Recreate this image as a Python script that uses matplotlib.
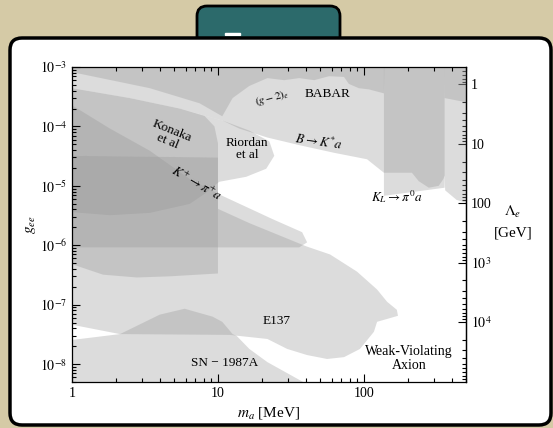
import matplotlib.pyplot as plt
from matplotlib.patches import FancyBboxPatch, Rectangle
from matplotlib.ticker import FixedLocator, FixedFormatter, LogLocator, NullFormatter

plt.rcParams["font.family"] = ["Liberation Serif", "DejaVu Serif"]
plt.rcParams["mathtext.fontset"] = "stix"

# exclusion regions: axion mass m_a [MeV] and coupling g_ee along each boundary
bk_m = [1, 2.49, 5.46, 10.7, 14.0, 21.8, 36.6, 62.4, 105, 137, 213, 237, 278, 325, 350, 357, 360, 431, 500]
bk_g = [4.4e-4, 3.0e-4, 2.0e-4, 1.26e-4, 9.2e-5, 6.5e-5, 4.8e-5, 3.6e-5, 2.8e-5, 1.66e-5,
        1.66e-5, 1.2e-5, 9.3e-6, 1.0e-5, 1.3e-5, 1.5e-5, 8.4e-6, 5.8e-6, 5.2e-6]

gm2_m = [1, 3.41, 7.48, 10.7, 12.6, 16.4, 21.8, 28.4, 36.0, 45.6, 57.7, 73.0, 78.7, 92.1,
         108, 137, 138, 356, 357, 500]
gm2_g = [8.2e-4, 4.4e-4, 2.45e-4, 1.48e-4, 3.0e-4, 4.8e-4, 6.5e-4, 6.0e-4, 6.5e-4, 6.0e-4,
         7.0e-4, 6.8e-4, 5.2e-4, 4.4e-4, 4.2e-4, 3.6e-4, 1e-3, 1e-3, 3.0e-4, 2.55e-4]

kl_m = [137, 357]
kl_g = [6.8e-6, 9.3e-6]

konaka_m = [1, 2.49, 5.46, 8.09, 9.46, 10, 10, 1]
konaka_g = [4.4e-4, 3.0e-4, 2.0e-4, 1.5e-4, 1.0e-4, 5.2e-5, 3.0e-5, 3.2e-5]

riordan_m = [1, 2.49, 5.46, 10.7, 16.4, 22.5, 24.3, 21.4, 15.6, 10.2, 8.09, 6.39, 3.41, 1.82, 1]
riordan_g = [4.4e-4, 3.0e-4, 2.0e-4, 1.26e-4, 8.5e-5, 5.6e-5, 3.2e-5, 1.94e-5, 1.42e-5,
             1.17e-5, 7.3e-6, 4.95e-6, 3.5e-6, 3.2e-6, 3.6e-6]

kplus_m = [1, 36.0, 40.8, 37.7, 23.6, 10.7, 6.39, 3.41, 1.82, 1]
kplus_g = [9.2e-7, 9.2e-7, 1.12e-6, 1.66e-6, 2.76e-6, 6.8e-6, 1.31e-5, 3.9e-5, 9.2e-5, 2.27e-4]

e137_m = [1, 10, 10, 16.4, 40.2, 58.6, 89.6, 123, 144, 168, 171, 123, 117, 93.9, 73.0,
          55.9, 40.8, 29.8, 21.8, 12.0, 2.13, 1]
e137_g = [3.2e-5, 3.0e-5, 4.1e-6, 2.36e-6, 9.6e-7, 7.0e-7, 3.6e-7, 1.8e-7, 1.12e-7, 8.2e-8,
          6.5e-8, 5.15e-8, 3.5e-8, 1.8e-8, 1.31e-8, 1.22e-8, 1.42e-8, 1.8e-8, 2.65e-8,
          3.1e-8, 3.2e-8, 4.6e-8]

low_m = [1, 10, 10, 4.67, 2.78, 1.63, 1]
low_g = [3.2e-5, 3.0e-5, 3.35e-7, 3.0e-7, 2.87e-7, 3.2e-7, 4.8e-7]

sn_m = [1, 2.13, 3.99, 5.91, 9.17, 10.7, 12.6, 13.4, 16.4, 21.8, 38.9]
sn_g = [2.55e-8, 3.2e-8, 6.8e-8, 8.55e-8, 6.3e-8, 5.15e-8, 3.2e-8, 3.0e-8, 1.8e-8, 1.08e-8, 4.9e-9]

x_ticks = [1, 10, 100]
x_labels = ["1", "10", "100"]
y_ticks = [1e-8, 1e-7, 1e-6, 1e-5, 1e-4, 1e-3]
y_labels = [r"$10^{-8}$", r"$10^{-7}$", r"$10^{-6}$", r"$10^{-5}$", r"$10^{-4}$", r"$10^{-3}$"]
lam_ticks = [1, 10, 100, 1e3, 1e4]
lam_labels = ["1", "10", "100", r"$10^3$", r"$10^4$"]
m_electron = 0.511e-3  # GeV

fig = plt.figure(figsize=(5.53, 4.28), dpi=100)
fig.patch.set_facecolor("#d5caa6")

# slide frame behind the plot
bg = fig.add_axes([0, 0, 1, 1], zorder=0)
bg.set_xlim(0, 553)
bg.set_ylim(428, 0)
bg.axis("off")
bg.add_patch(FancyBboxPatch((197, 6), 143, 60, boxstyle="round,pad=0,rounding_size=10",
                            fc="#2c6a6b", ec="black", lw=2))
bg.add_patch(Rectangle((225, 33), 15, 2, color="white"))
bg.add_patch(FancyBboxPatch((10, 38), 541, 387, boxstyle="round,pad=0,rounding_size=12",
                            fc="white", ec="black", lw=2.5))

ax = fig.add_axes([72 / 553, 1 - 382 / 428, 394 / 553, 315 / 428], zorder=1)
ax.set_xscale("log")
ax.set_yscale("log")
ax.set_xlim(1, 500)
ax.set_ylim(5e-9, 1e-3)

shade = dict(facecolor="#969696", alpha=0.33, edgecolor="none")
ax.fill_between(bk_m, bk_g, 1e-3, **shade)
ax.fill_between(gm2_m, gm2_g, 1e-3, **shade)
ax.fill_between(kl_m, kl_g, 1e-3, **shade)
ax.fill(konaka_m, konaka_g, **shade)
ax.fill(riordan_m, riordan_g, **shade)
ax.fill(kplus_m, kplus_g, **shade)
ax.fill(e137_m, e137_g, **shade)
ax.fill(low_m, low_g, **shade)
ax.fill_between(sn_m, 1e-10, sn_g, **shade)

fs = 9.5
ax.text(4.67, 6.8e-5, "Konaka\net al", fontsize=fs, rotation=-22, ha="center", va="center",
        linespacing=0.9)
ax.text(15.9, 4.1e-5, "Riordan\net al", fontsize=fs, ha="center", va="center", linespacing=1.0)
ax.text(7.1, 1.08e-5, r"$K^{+}\rightarrow\pi^{+}a$", fontsize=fs, rotation=-30,
        ha="center", va="center")
ax.text(23.6, 3.0e-4, r"$(g-2)_e$", fontsize=8, rotation=15, ha="center", va="center")
ax.text(55.9, 3.5e-4, "BABAR", fontsize=fs, ha="center", va="center")
ax.text(49.3, 5.6e-5, r"$B\rightarrow K^{*}a$", fontsize=fs, rotation=-8, ha="center", va="center")
ax.text(168, 6.5e-6, r"$K_L\rightarrow\pi^0 a$", fontsize=fs, ha="center", va="center")
ax.text(25.1, 5.4e-8, "E137", fontsize=fs, ha="center", va="center")
ax.text(11.1, 1.04e-8, "SN \u2212 1987A", fontsize=fs, ha="center", va="center")
ax.text(203, 1.22e-8, "Weak-Violating\nAxion", fontsize=10, ha="center", va="center",
        linespacing=1.1)

ax.xaxis.set_major_locator(FixedLocator(x_ticks))
ax.xaxis.set_major_formatter(FixedFormatter(x_labels))
ax.xaxis.set_minor_locator(LogLocator(base=10, subs=range(2, 10)))
ax.xaxis.set_minor_formatter(NullFormatter())
ax.yaxis.set_major_locator(FixedLocator(y_ticks))
ax.yaxis.set_major_formatter(FixedFormatter(y_labels))
ax.yaxis.set_minor_locator(LogLocator(base=10, subs=range(2, 10), numticks=20))
ax.yaxis.set_minor_formatter(NullFormatter())
ax.tick_params(which="both", direction="in", top=True, right=False, labelsize=10, width=0.8)
ax.tick_params(which="major", length=6)
ax.tick_params(which="minor", length=3)
for sp in ax.spines.values():
    sp.set_linewidth(0.9)

ax.set_xlabel(r"$m_a$ [MeV]", fontsize=11, labelpad=4)
ax.set_ylabel(r"$g_{ee}$", fontsize=11, labelpad=1)

sec = ax.secondary_yaxis("right", functions=(lambda g: m_electron / g, lambda lam: m_electron / lam))
sec.yaxis.set_major_locator(FixedLocator(lam_ticks))
sec.yaxis.set_major_formatter(FixedFormatter(lam_labels))
sec.yaxis.set_minor_locator(LogLocator(base=10, subs=range(2, 10), numticks=20))
sec.yaxis.set_minor_formatter(NullFormatter())
sec.tick_params(which="both", direction="in", labelsize=10, width=0.8)
sec.tick_params(which="major", length=6)
sec.tick_params(which="minor", length=3)
sec.spines["right"].set_linewidth(0.9)

fig.text(513 / 553, 1 - 212 / 428, r"$\Lambda_e$", fontsize=11, ha="center", va="center")
fig.text(513 / 553, 1 - 233 / 428, "[GeV]", fontsize=11, ha="center", va="center")

fig.savefig("out.png", dpi=100, facecolor=fig.get_facecolor())
